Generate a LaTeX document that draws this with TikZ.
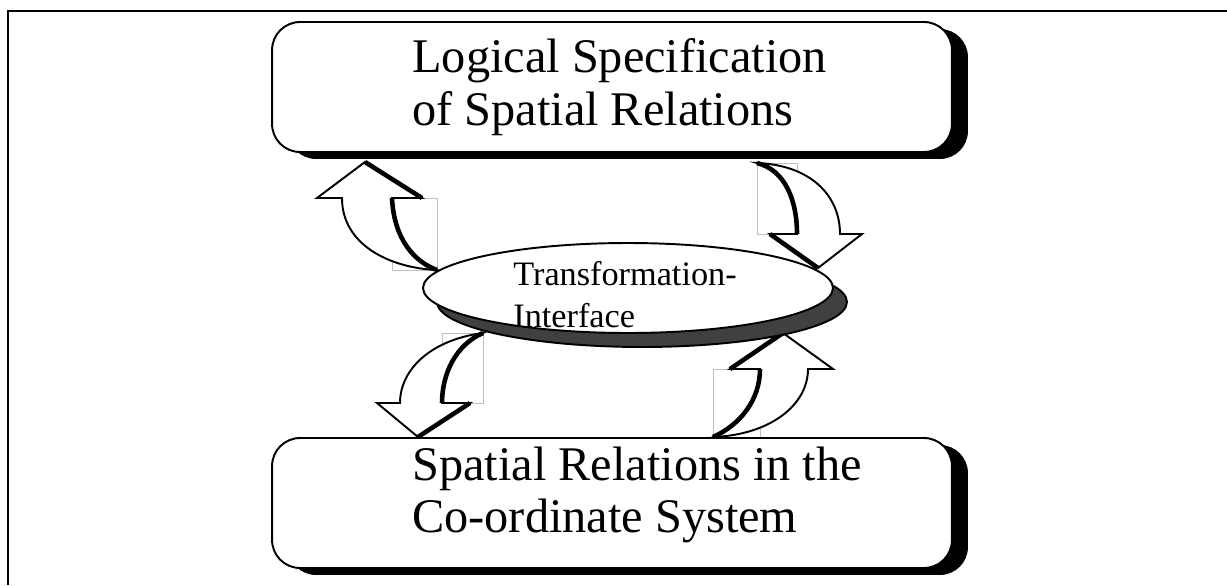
\documentclass[tikz,border=0pt]{standalone}
\usepackage{fontspec}
\setmainfont{Liberation Serif}
\usetikzlibrary{shapes.geometric,shadows}
\definecolor{shadowGray}{HTML}{404040}

\begin{document}
\begin{tikzpicture}[
  x=0.02cm,y=-0.02cm,
  frame/.style={line width=1.7pt},
  levelBox/.style={draw,line width=1.1pt,rounded corners=0.56cm,fill=white,minimum width=13.6cm,minimum height=2.6cm,
    drop shadow={shadow xshift=0.32cm,shadow yshift=-0.14cm,fill=black,opacity=1}},
  levelText/.style={align=left,anchor=west,inner sep=0pt,font=\fontsize{27.5}{30}\selectfont},
  interface/.style={draw,ellipse,line width=1.1pt,fill=white,minimum width=8.2cm,minimum height=1.8cm,
    drop shadow={shadow xshift=0.28cm,shadow yshift=-0.28cm,fill=shadowGray,draw=black,opacity=1}},
  interfaceText/.style={align=left,anchor=west,inner sep=0pt,font=\fontsize{19.5}{24}\selectfont},
  blockArrow/.style={draw,line width=1.1pt,fill=white,line join=miter},
  sideEdge/.style={line width=2.6pt},
  faceBox/.style={draw=gray!50,line width=0.4pt}]

  \useasboundingbox (0,0) rectangle (1227,585);

  % open frame
  \draw[frame] (8,585) -- (8,11) -- (1227,11);

  % arrow up to the logical level
  \draw[faceBox] (392,198) rectangle (437,270);
  \draw[blockArrow] (365,162) -- (422,198) -- (392,198)
    .. controls (394,240) and (415,262) .. (437,270)
    .. controls (390,268) and (342,245) .. (342,198)
    -- (317,198) -- cycle;
  \draw[sideEdge] (392,198) .. controls (394,240) and (415,262) .. (437,270);
  \draw[sideEdge] (365,162) -- (422,198);

  % arrow down to the interface
  \draw[faceBox] (757,163) rectangle (797,234);
  \draw[blockArrow] (757,163) .. controls (810,165) and (840,195) .. (840,234)
    -- (862,234) -- (818,268) -- (770,234) -- (797,234)
    .. controls (797,200) and (785,170) .. (757,163) -- cycle;
  \draw[sideEdge] (757,163) .. controls (785,170) and (797,200) .. (797,234);
  \draw[sideEdge] (770,234) -- (818,268);

  % arrow down to the co-ordinate level
  \draw[faceBox] (442,333) rectangle (483,403);
  \draw[blockArrow] (483,333) .. controls (430,340) and (400,370) .. (400,403)
    -- (377,403) -- (418,437) -- (470,403) -- (442,403)
    .. controls (442,375) and (455,345) .. (483,333) -- cycle;
  \draw[sideEdge] (483,333) .. controls (455,345) and (442,375) .. (442,403);
  \draw[sideEdge] (470,403) -- (418,437);

  % arrow up to the interface
  \draw[faceBox] (713,369) rectangle (760,437);
  \draw[blockArrow] (713,437) .. controls (770,435) and (808,405) .. (808,369)
    -- (833,369) -- (783,333) -- (730,369) -- (760,369)
    .. controls (760,400) and (740,425) .. (713,437) -- cycle;
  \draw[sideEdge] (713,437) .. controls (740,425) and (760,400) .. (760,369);
  \draw[sideEdge] (730,369) -- (783,333);

  % levels and interface
  \node[levelBox] (logic) at (612,87) {};
  \node[levelBox] (coord) at (612,503) {};
  \node[interface] (transform) at (628,288) {};

  \node[levelText] (logicText) at (412,87) {Logical Specification\\of Spatial Relations};
  \node[levelText] (coordText) at (412,495) {Spatial Relations in the\\Co-ordinate System};
  \node[interfaceText] (transformText) at (513,295) {Transformation-\\Interface};

\end{tikzpicture}
\end{document}
